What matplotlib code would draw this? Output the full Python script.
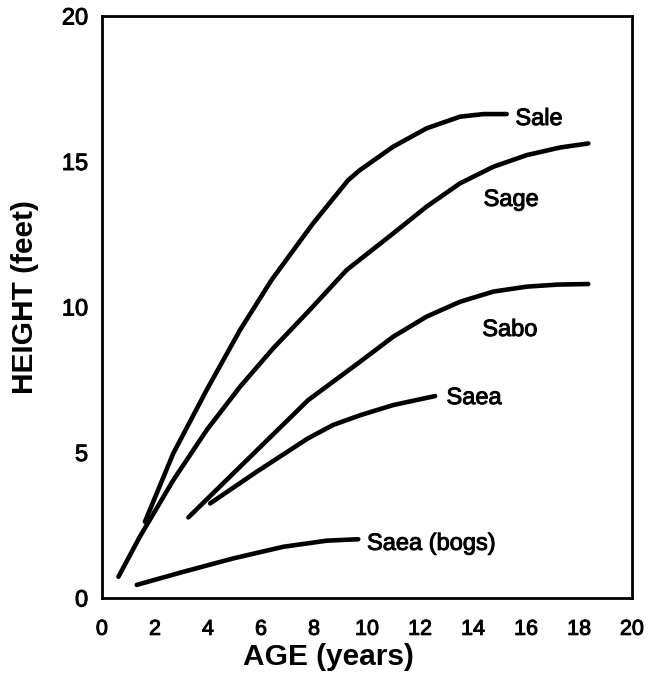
import matplotlib
matplotlib.use("Agg")
import matplotlib.pyplot as plt
import matplotlib.patheffects as pe

plt.rcParams['font.family'] = ['Liberation Sans', 'DejaVu Sans']

# Sale
sale_x = [1.62, 2.69, 3.95, 5.21, 6.40, 7.97, 9.29, 9.74, 10.99, 12.25, 13.51, 14.4, 15.27]
sale_y = [2.62, 4.97, 7.15, 9.21, 10.93, 12.88, 14.36, 14.71, 15.51, 16.14, 16.54, 16.63, 16.63]
# Sage
sage_x = [0.62, 1.43, 2.69, 3.95, 5.21, 6.46, 7.78, 9.23, 10.99, 12.25, 13.51, 14.77, 16.03, 17.28, 18.35]
sage_y = [0.73, 2.11, 4.05, 5.77, 7.26, 8.58, 9.84, 11.27, 12.53, 13.45, 14.25, 14.82, 15.22, 15.48, 15.62]
# Sabo
sabo_x = [3.26, 5.21, 7.78, 9.74, 10.99, 12.25, 13.51, 14.77, 16.03, 17.2, 18.35]
sabo_y = [2.77, 4.51, 6.80, 8.12, 8.98, 9.67, 10.18, 10.53, 10.70, 10.77, 10.79]
# Saea
saea_x = [4.08, 5.84, 7.78, 8.73, 9.74, 10.99, 12.57]
saea_y = [3.25, 4.34, 5.49, 5.95, 6.28, 6.63, 6.94]
# Saea (bogs)
bogs_x = [1.31, 3.07, 4.95, 6.84, 8.48, 9.67]
bogs_y = [0.45, 0.90, 1.36, 1.76, 1.97, 2.02]

labels = ["Sale", "Sage", "Sabo", "Saea", "Saea (bogs)"]
label_x = [15.6, 14.4, 14.35, 13.0, 10.0]
label_y = [16.46, 13.68, 9.21, 6.87, 1.86]

xticks = [0, 2, 4, 6, 8, 10, 12, 14, 16, 18, 20]
yticks = [0, 5, 10, 15, 20]

fig = plt.figure(figsize=(6.49, 6.83), dpi=100)
ax = fig.add_axes([102/649, 85/683, 530/649, 582/683])

for xs, ys in [(sale_x, sale_y), (sage_x, sage_y), (sabo_x, sabo_y),
               (saea_x, saea_y), (bogs_x, bogs_y)]:
    ax.plot(xs, ys, color='black', lw=3.3, solid_capstyle='round', solid_joinstyle='round')

thick = [pe.withStroke(linewidth=0.7, foreground='black')]
for t, x, y in zip(labels, label_x, label_y):
    ax.text(x, y, t, fontsize=17, ha='left', va='center', color='black', path_effects=thick)

ax.set_xlim(0, 20)
ax.set_ylim(0, 20)
ax.set_xticks(xticks)
ax.set_yticks(yticks)
ax.tick_params(axis='x', direction='in', length=7, width=1.8, labelsize=15.5, pad=15,
               top=True, bottom=True)
ax.tick_params(axis='y', direction='in', length=7, width=1.8, labelsize=17, pad=10,
               left=True, right=False)
for tl in ax.xaxis.get_major_ticks():
    if tl.get_loc() in (0, 20):
        tl.tick1line.set_visible(False)
        tl.tick2line.set_visible(False)
for tl in ax.yaxis.get_major_ticks():
    if tl.get_loc() in (0, 20):
        tl.tick1line.set_visible(False)
for lab in ax.get_xticklabels() + ax.get_yticklabels():
    lab.set_path_effects(thick)

for s in ax.spines.values():
    s.set_linewidth(2.0)

ax.set_xlabel("AGE (years)", fontsize=21.5, fontweight='bold')
ax.set_ylabel("HEIGHT (feet)", fontsize=21.5, fontweight='bold')
ax.xaxis.set_label_coords((328-102)/530, (598-657)/582)
ax.xaxis.label.set_va('center')
ax.yaxis.set_label_coords((25-102)/530, (598-297)/582)
ax.yaxis.label.set_va('center')

fig.savefig("out.png", dpi=100)
